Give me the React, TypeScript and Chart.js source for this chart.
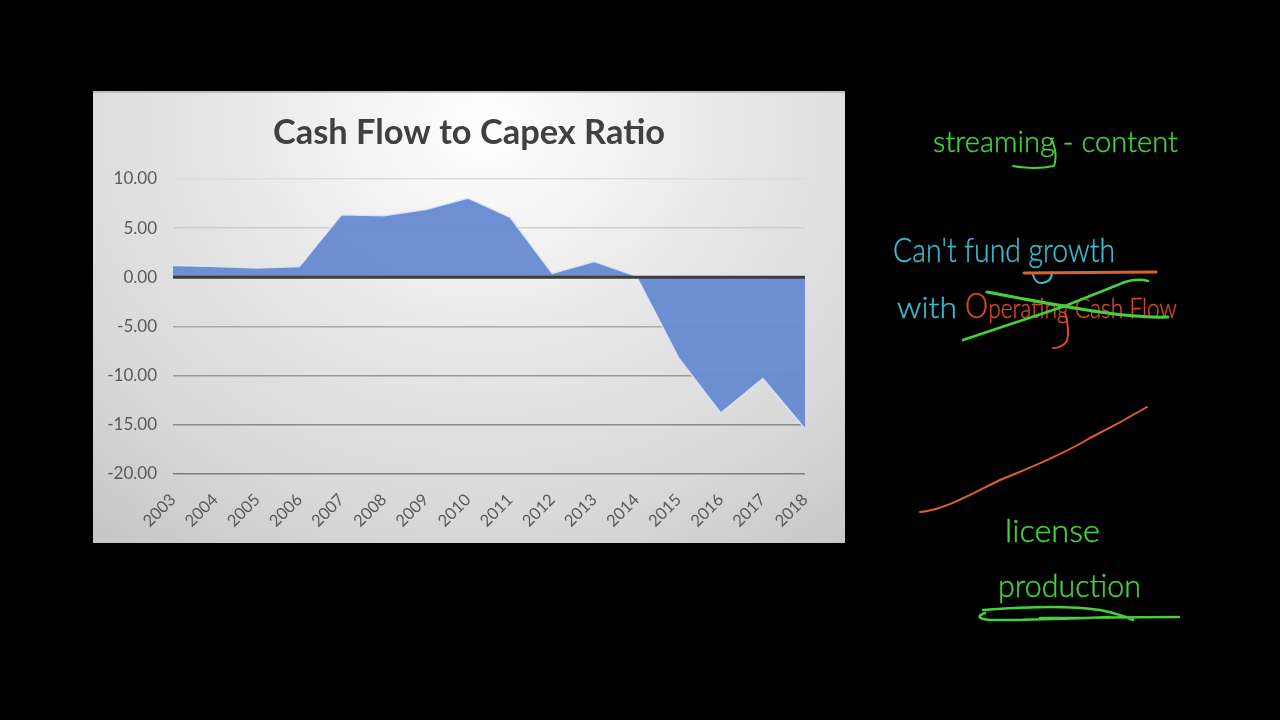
import { useEffect, useRef } from "react"
import { Chart, registerables } from "chart.js"

Chart.register(...registerables)

const years = ["2003", "2004", "2005", "2006", "2007", "2008", "2009", "2010", "2011", "2012", "2013", "2014", "2015", "2016", "2017", "2018"]
const ratio = [1.2, 1.1, 0.95, 1.1, 6.35, 6.25, 6.9, 8.05, 6.1, 0.4, 1.6, 0.1, -8.2, -13.8, -10.3, -15.4]
const zeroLine = years.map(() => 0)

const gridColors: Record<string, string> = {
  "10": "#dcdcdc",
  "5": "#cdcdcd",
  "0": "rgba(0,0,0,0)",
  "-5": "#a9a9a9",
  "-10": "#999999",
  "-15": "#8b8b8b",
  "-20": "#7f7f7f",
}

const GREEN = "#46d13c"
const CYAN = "#3cbcd4"
const RED = "#d8482a"
const ORANGE = "#e0602c"

export default function App() {
  const chartRef = useRef<HTMLCanvasElement>(null)

  useEffect(() => {
    if (!chartRef.current) return

    const chart = new Chart(chartRef.current, {
      type: "line",
      data: {
        labels: years,
        datasets: [
          {
            label: "Zero",
            data: zeroLine,
            borderColor: "#3c3c3c",
            borderWidth: 3,
            pointRadius: 0,
            fill: false,
            order: 0,
          },
          {
            label: "Cash Flow to Capex Ratio",
            data: ratio,
            borderColor: "rgba(222,233,250,0.85)",
            borderWidth: 1.5,
            backgroundColor: "rgba(102,137,207,0.95)",
            pointRadius: 0,
            tension: 0,
            fill: "origin",
            order: 1,
          },
        ],
      },
      options: {
        responsive: false,
        animation: false,
        plugins: {
          legend: { display: false },
          tooltip: { enabled: false },
          title: {
            display: true,
            text: "Cash Flow to Capex Ratio",
            color: "#404040",
            font: { family: "Lato", size: 34.4, weight: "bold" },
            padding: { top: 21, bottom: 25.7 },
          },
        },
        scales: {
          x: {
            offset: false,
            grid: { display: false },
            border: { display: false },
            ticks: {
              color: "#595959",
              font: { family: "Lato", size: 16.5 },
              maxRotation: 45,
              minRotation: 45,
              autoSkip: false,
              padding: 8,
            },
            afterFit: (scale) => {
              scale.height = 69
            },
          },
          y: {
            min: -20,
            max: 10,
            grid: {
              drawTicks: false,
              lineWidth: 1.5,
              color: (ctx) => gridColors[String(ctx.tick.value)] ?? "#cccccc",
            },
            border: { display: false },
            ticks: {
              stepSize: 5,
              color: "#595959",
              font: { family: "Lato", size: 17 },
              padding: 16,
              callback: (v) => Number(v).toFixed(2),
            },
            afterFit: (scale) => {
              scale.width = 80
            },
          },
          // empty axis, only holds the right margin so the title stays centred on the panel
          spacer: {
            position: "right",
            grid: { display: false },
            border: { display: false },
            ticks: { display: false },
            afterFit: (scale) => {
              scale.width = 40
            },
          },
        },
      },
    })

    return () => chart.destroy()
  }, [])

  return (
    <div style={{ position: "fixed", inset: 0, background: "#000", overflow: "hidden" }}>
      <div
        style={{
          position: "absolute",
          left: 93,
          top: 91,
          width: 752,
          height: 452,
          background: "radial-gradient(ellipse 80% 115% at 52% 8%, #ffffff 0%, #f3f3f3 22%, #e3e3e3 50%, #d9d9d9 75%, #c7c7c7 100%)",
          boxShadow: "inset 0 2px 0 #bdbdbd",
        }}
      >
        <canvas ref={chartRef} width={752} height={452} style={{ display: "block" }} />
      </div>

      <svg
        width={1280}
        height={720}
        style={{ position: "absolute", left: 0, top: 0, fontFamily: "Lato", fontWeight: 300 }}
      >
        <g fill="none" strokeLinecap="round" strokeLinejoin="round">
          <path d="M1052 140 Q1058 155 1054 166 Q1035 170 1013 166" stroke={GREEN} strokeWidth={2} />
          <path d="M1033 275 Q1036 284 1042 283 Q1052 282 1052 272" stroke={CYAN} strokeWidth={2} />
          <path d="M1065 313 Q1070 330 1067 341 Q1062 348 1053 348" stroke={RED} strokeWidth={2} />
          <path d="M1024 273 L1156 272" stroke={ORANGE} strokeWidth={3} />
          <path d="M920 512 C945 510 975 492 1000 480 C1020 472 1060 456 1090 438 C1110 428 1130 417 1147 407" stroke={ORANGE} strokeWidth={2} />
          <path d="M983 610 Q1060 604 1100 610 Q1120 614 1133 620 M1110 617 Q1040 620 990 620 Q972 618 985 613 M1040 618 L1179 617" stroke={GREEN} strokeWidth={2.5} />
        </g>
        <g stroke="currentColor" strokeWidth={0.4}>
          <text x={933} y={152} fontSize={30} fill={GREEN} color={GREEN} textLength={245} lengthAdjust="spacingAndGlyphs">
            streaming - content
          </text>
          <text x={893} y={262} fontSize={34} fill={CYAN} color={CYAN} textLength={222} lengthAdjust="spacingAndGlyphs">
            Can't fund growth
          </text>
          <text x={897} y={318} fontSize={30} fill={CYAN} color={CYAN} textLength={60} lengthAdjust="spacingAndGlyphs">
            with
          </text>
          <text x={965} y={318} fontSize={28} fill={RED} color={RED} textLength={212} lengthAdjust="spacingAndGlyphs">
            <tspan fontSize={36}>O</tspan>perating Cash Flow
          </text>
          <text x={1005} y={542} fontSize={32} fill={GREEN} color={GREEN} textLength={95} lengthAdjust="spacingAndGlyphs">
            license
          </text>
          <text x={998} y={597} fontSize={32} fill={GREEN} color={GREEN} textLength={143} lengthAdjust="spacingAndGlyphs">
            production
          </text>
        </g>
        <g fill="none" strokeLinecap="round" strokeLinejoin="round" stroke={GREEN} strokeWidth={3}>
          <path d="M987 292 Q1060 306 1100 312 Q1140 318 1168 317" />
          <path d="M963 340 L1065 306 L1125 282 Q1138 278 1148 281" strokeWidth={2.5} />
        </g>
      </svg>
    </div>
  )
}
